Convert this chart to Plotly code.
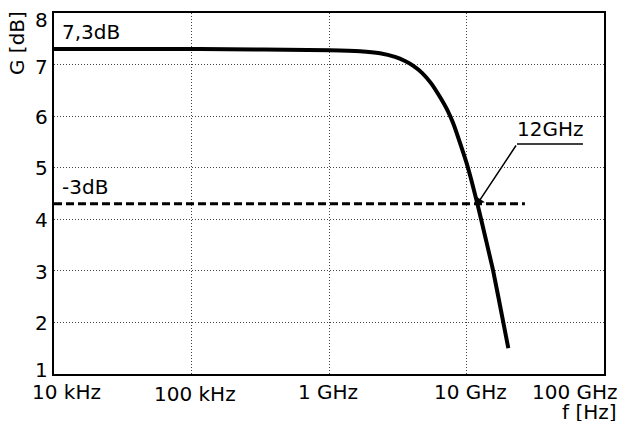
import math
import plotly.graph_objects as go

# Amplifier gain vs. frequency
freq_ghz = [0.01, 0.1153, 1.017, 1.681, 2.349, 3.020, 3.571, 4.082, 4.747, 5.518,
            6.417, 7.215, 7.977, 8.968, 10.25, 12.0, 13.63, 15.63, 18.52, 20.14]
gain_db = [7.30, 7.30, 7.28, 7.26, 7.22, 7.15, 7.07, 6.98, 6.84, 6.64,
           6.37, 6.13, 5.87, 5.48, 5.00, 4.30, 3.68, 3.00, 2.00, 1.50]

# -3 dB reference level
ref_level_db = 4.3
ref_span_ghz = [0.01, 26.6]

# 12 GHz marker: crossing point, leader start and underline end
cross_ghz, cross_db = 12.0, 4.3
leader_ghz, leader_db = 23.3, 5.46
underline_end_ghz = 70.3

# Axis ticks
tick_freq_hz = [1e7, 1e8, 1e9, 1e10, 1e11]
tick_labels = ["10 kHz", "100 kHz", "1 GHz", "10 GHz", "100 GHz"]
tick_label_anchor = ["left", "center", "center", "center", "right"]
tick_label_xshift = [-24, 3, -1, 4, 16]
tick_label_yshift = [0, -2, 0, 0, 0]
gain_ticks = [1, 2, 3, 4, 5, 6, 7, 8]
gain_label_yshift = [4, -1, -1, -1, 0, -1, -2, -7]

FONT = "DejaVu Sans"
FS = 20
TXT = dict(family=FONT, size=FS, color="black")

fig = go.Figure()

fig.add_trace(go.Scatter(
    x=[f * 1e9 for f in ref_span_ghz], y=[ref_level_db, ref_level_db],
    mode="lines", line=dict(color="black", width=3, dash="8px,4px"),
    hoverinfo="skip", showlegend=False))

fig.add_trace(go.Scatter(
    x=[f * 1e9 for f in freq_ghz], y=gain_db,
    mode="lines", line=dict(color="black", width=4, shape="spline", smoothing=0.5),
    showlegend=False))

# underline beneath the "12GHz" label
fig.add_trace(go.Scatter(
    x=[leader_ghz * 1e9, underline_end_ghz * 1e9], y=[leader_db, leader_db],
    mode="lines", line=dict(color="black", width=1.5),
    hoverinfo="skip", showlegend=False))

ann = []
for f, lbl, anc, dx, dy in zip(tick_freq_hz, tick_labels, tick_label_anchor,
                               tick_label_xshift, tick_label_yshift):
    ann.append(dict(x=math.log10(f), y=0, xref="x", yref="paper", text=lbl,
                    showarrow=False, xanchor=anc, yanchor="top",
                    xshift=dx, yshift=-4 + dy, font=TXT))

for g, dy in zip(gain_ticks, gain_label_yshift):
    ann.append(dict(x=0, y=g, xref="paper", yref="y", text=str(g),
                    showarrow=False, xanchor="right", yanchor="middle",
                    xshift=-4, yshift=dy, font=TXT))

ann += [
    dict(x=1, y=0, xref="paper", yref="paper", text="f [Hz]", showarrow=False,
         xanchor="right", yanchor="top", xshift=15, yshift=-24, font=TXT),
    dict(x=0, y=1, xref="paper", yref="paper", text="G [dB]", showarrow=False,
         textangle=-90, xanchor="center", yanchor="middle", xshift=-37, yshift=-30,
         font=TXT),
    dict(x=math.log10(freq_ghz[0] * 1e9), y=gain_db[0], xref="x", yref="y", text="7,3dB",
         showarrow=False, xanchor="left", yanchor="bottom", xshift=6, yshift=3, font=TXT),
    dict(x=math.log10(ref_span_ghz[0] * 1e9), y=ref_level_db, xref="x", yref="y", text="-3dB",
         showarrow=False, xanchor="left", yanchor="bottom", xshift=6, yshift=3, font=TXT),
    dict(x=math.log10(leader_ghz * 1e9), y=leader_db, xref="x", yref="y", text="12GHz",
         showarrow=False, xanchor="left", yanchor="bottom", xshift=-2, yshift=1, font=TXT),
    dict(x=math.log10(cross_ghz * 1e9), y=cross_db, xref="x", yref="y",
         ax=math.log10(leader_ghz * 1e9), ay=leader_db, axref="x", ayref="y",
         text="", showarrow=True, arrowhead=1, arrowsize=1.2, arrowwidth=1.5,
         arrowcolor="black", standoff=0),
]

fig.update_layout(
    width=625, height=421,
    margin=dict(l=54, r=21, t=13, b=47, autoexpand=False),
    paper_bgcolor="white", plot_bgcolor="white",
    font=TXT,
    annotations=ann,
    xaxis=dict(type="log", range=[7, 11], tickvals=tick_freq_hz, showticklabels=False,
               ticks="", showgrid=True, gridcolor="#444", gridwidth=1, griddash="1px,2px",
               showline=True, linecolor="black", linewidth=2, mirror=True, zeroline=False,
               automargin=False),
    yaxis=dict(range=[1, 8], tickvals=gain_ticks, showticklabels=False, ticks="",
               showgrid=True, gridcolor="#444", gridwidth=1, griddash="1px,2px",
               showline=True, linecolor="black", linewidth=2, mirror=True, zeroline=False,
               automargin=False),
)

fig.write_html("out.html")
